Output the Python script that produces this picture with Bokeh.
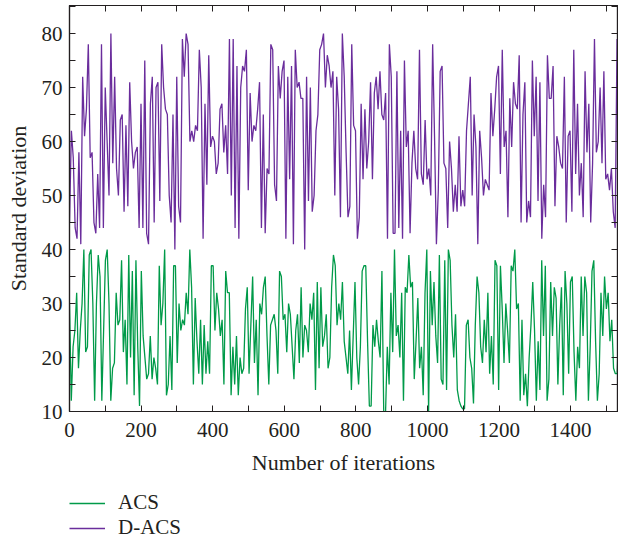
import numpy as np
from bokeh.plotting import figure
from bokeh.layouts import column
from bokeh.models import Range1d, LinearAxis, Legend, LegendItem, FixedTicker, CustomJSTickFormatter
from bokeh.embed import file_html
from bokeh.resources import INLINE

acs = [30,12,22,25,32,18,25,30,40,21,22,39,40,30,12,30,39,35,12,25,38,40,30,12,18,19,32,26,27,38,21,27,15,39,20,36,13,38,22,11,36,24,20,16,17,24,16,20,18,15,37,26,30,40,13,15,24,14,37,37,19,30,25,27,26,32,28,40,33,15,31,23,17,27,15,26,17,23,17,37,37,25,32,29,24,27,15,36,32,32,13,22,15,24,13,20,17,18,29,33,17,26,35,19,27,13,30,28,33,35,24,15,26,27,28,25,17,36,35,27,28,21,30,28,22,16,25,28,19,33,20,26,25,21,30,27,32,14,34,18,33,22,24,28,18,20,33,39,37,26,30,27,34,23,20,17,25,14,24,34,20,15,22,36,37,37,23,11,11,26,22,27,23,20,36,10,9.5,22,15,32,21,40,24,26,20,32,12,33,32,39,33,34,16,23,31,18,22,13,32,40,10,36,26,34,24,19,39,16,15,38,14,40,38,26,20,28,14,12,11,10.5,10.5,26,27,20,18,11.5,26,35,32,22,19,27,21,32,17,24,15,38,37,14,37,29,19,30,25,19,37,36,40,29,30,12,27,13,17,11,20,26,34,25,12,23,14,38,24,37,12,16,34,24,33,31,15,26,33,13,36,30,17,34,35,21,12,22,18,35,24,35,32,12,22,36,38,23,12,17,32,24,35,29,32,23,27,18,17,17,27]

dacs = [45,62,57,44,42,58,41,72,61,66,78,57,58,45,43,54,44,78,44,70,60,50,80,56,72,55,50,64,65,47,63,48,71,60,55,58,59,44,67,44,75,43,41,67,72,45,70,71,49,78,70,66,65,50,45,65,40,72,48,45,79,72,80,78,60,62,60,63,62,77,70,42,67,52,76,59,61,60,54,56,66,67,58,63,54,79,50,79,44,74,42,70,74,73,77,51,69,60,63,62,66,71,44,65,43,55,54,78,77,52,49,74,68,73,75,42,72,53,74,41,77,70,71,68,68,40,72,49,70,47,50,62,65,77,78,80,70,76,74,70,73,50,72,66,46,80,72,58,46,48,78,63,62,42,46,67,53,66,55,60,71,53,69,72,66,73,65,64,69,42,78,72,43,43,73,44,62,42,75,59,62,43,56,62,55,53,77,54,52,64,53,55,50,78,61,41,51,73,74,56,55,44,60,55,47,52,47,61,48,51,48,62,67,72,50,65,59,41,62,57,50,53,52,51,69,61,66,72,74,54,77,59,62,46,68,59,71,67,66,76,45,65,71,45,49,46,75,61,72,49,71,42,52,46,76,68,68,74,48,61,59,56,55,72,45,61,62,47,77,54,67,50,56,46,73,58,67,45,56,79,58,60,70,56,73,53,54,51,55,47,44,79,44]

last_iteration = 1535
x_acs = np.linspace(0, last_iteration, len(acs))
x_dacs = np.linspace(0, last_iteration, len(dacs))

x_ticks = [0, 200, 400, 600, 800, 1000, 1200, 1400]
y_ticks = [10, 20, 30, 40, 50, 60, 70, 80]
series_names = ["ACS", "D-ACS"]

FONT = "Liberation Serif"
TXT = "#231f20"
GREEN = "#009a49"
PURPLE = "#6a2d9c"

p = figure(output_backend="svg", toolbar_location=None,
           width=618, height=485,
           min_border_left=69, min_border_right=1, min_border_top=5, min_border_bottom=74,
           x_range=Range1d(0, 1531), y_range=Range1d(10, 85.2))

p.grid.visible = False
p.outline_line_color = TXT
p.outline_line_width = 1.2
p.background_fill_color = "white"

p.line(x_acs, acs, line_color=GREEN, line_width=1.3)
p.line(x_dacs, dacs, line_color=PURPLE, line_width=1.3)

def style(ax):
    ax.axis_line_color = TXT
    ax.axis_line_width = 1.2
    ax.major_tick_in = 6
    ax.major_tick_out = 0
    ax.minor_tick_in = 6
    ax.minor_tick_out = 0
    ax.major_tick_line_color = TXT
    ax.minor_tick_line_color = TXT
    ax.major_label_text_font = FONT
    ax.major_label_text_font_size = "21px"
    ax.major_label_text_color = TXT
    ax.axis_label_text_font = FONT
    ax.axis_label_text_font_size = "22px"
    ax.axis_label_text_font_style = "normal"
    ax.axis_label_text_color = TXT

xa = p.xaxis[0]
ya = p.yaxis[0]
xa.ticker = FixedTicker(ticks=x_ticks, minor_ticks=list(range(100, 1600, 200)))
ya.ticker = FixedTicker(ticks=y_ticks, minor_ticks=list(range(15, 90, 10)))
style(xa)
style(ya)
xa.axis_label = "Number of iterations"
ya.axis_label = "Standard deviation"
xa.major_label_standoff = 11
xa.axis_label_standoff = 10
ya.major_label_standoff = 7
ya.axis_label_standoff = 8

blank = CustomJSTickFormatter(code="return ''")
top = LinearAxis(ticker=FixedTicker(ticks=x_ticks, minor_ticks=list(range(100, 1600, 200))), formatter=blank)
right = LinearAxis(ticker=FixedTicker(ticks=y_ticks, minor_ticks=list(range(15, 90, 10))), formatter=blank)
for ax in (top, right):
    style(ax)
    ax.major_label_text_font_size = "1px"
    ax.major_label_standoff = 0
p.add_layout(top, "above")
p.add_layout(right, "right")

# legend strip below the plot (its own ranges keep the proxy lines out of view)
lf = figure(output_backend="svg", toolbar_location=None, width=618, height=56,
            min_border_left=69, min_border_right=0, min_border_top=0, min_border_bottom=0,
            x_axis_type=None, y_axis_type=None,
            x_range=Range1d(-3, -2), y_range=Range1d(-3, -2))
lf.grid.visible = False
lf.outline_line_color = None
g1 = lf.line(x_acs, acs, line_color=GREEN, line_width=1.3)
g2 = lf.line(x_dacs, dacs, line_color=PURPLE, line_width=1.3)

legend = Legend(items=[LegendItem(label=series_names[0], renderers=[g1]),
                       LegendItem(label=series_names[1], renderers=[g2])],
                location=(0, 1), orientation="vertical")
legend.label_text_font = FONT
legend.label_text_font_size = "21px"
legend.label_text_color = TXT
legend.glyph_width = 36
legend.glyph_height = 20
legend.label_height = 20
legend.spacing = -3
legend.label_standoff = 13
legend.padding = 0
legend.margin = 0
legend.border_line_color = None
legend.background_fill_alpha = 0
lf.add_layout(legend, "center")

layout = column(p, lf, spacing=0)
open("out.html", "w").write(file_html(layout, INLINE))
